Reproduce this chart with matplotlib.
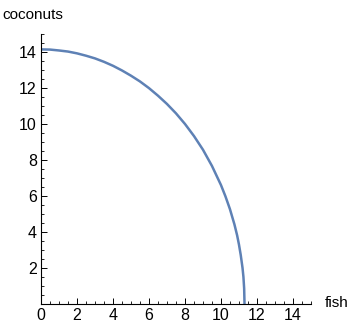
import numpy as np
import matplotlib.pyplot as plt
from matplotlib.ticker import MultipleLocator

plt.rcParams['font.family'] = ['Liberation Sans', 'DejaVu Sans']

# production possibilities frontier: fish vs coconuts
fish = [0, 0.5, 1, 1.5, 2, 2.5, 3, 3.5, 4, 4.5, 5, 5.5, 6, 6.5, 7, 7.5, 8, 8.5, 9, 9.5,
        10, 10.25, 10.5, 10.75, 10.9, 11, 11.1, 11.2, 11.25, 11.29, 11.31]
coconuts = [14.14, 14.13, 14.08, 14.02, 13.92, 13.79, 13.64, 13.45, 13.23, 12.97, 12.68,
            12.36, 11.99, 11.57, 11.11, 10.59, 10.0, 9.33, 8.57, 7.67, 6.61, 5.98, 5.27,
            4.42, 3.81, 3.31, 2.72, 2.0, 1.50, 0.86, 0.0]

fig = plt.figure(figsize=(3.51, 3.27), dpi=100)
ax = fig.add_axes([0.1168, 0.0703, 0.769, 0.826])

ax.plot(fish, coconuts, color='#5e81b5', lw=1.8, solid_capstyle='butt')

ax.set_xlim(0, 15)
ax.set_ylim(0, 15)
ax.spines['top'].set_visible(False)
ax.spines['right'].set_visible(False)
for s in ('left', 'bottom'):
    ax.spines[s].set_linewidth(0.8)

ax.xaxis.set_major_locator(MultipleLocator(2))
ax.xaxis.set_minor_locator(MultipleLocator(0.5))
ax.yaxis.set_major_locator(MultipleLocator(2))
ax.yaxis.set_minor_locator(MultipleLocator(0.5))
ax.set_yticks([2, 4, 6, 8, 10, 12, 14])
ax.tick_params(which='major', direction='in', length=4, width=0.7, labelsize=11.5, pad=3)
ax.tick_params(which='minor', direction='in', length=2, width=0.6)

fig.text(0.006, 0.955, 'coconuts', fontsize=11, ha='left', va='center')
fig.text(0.925, 0.074, 'fish', fontsize=11, ha='left', va='center')

fig.savefig('out.png', dpi=100)
